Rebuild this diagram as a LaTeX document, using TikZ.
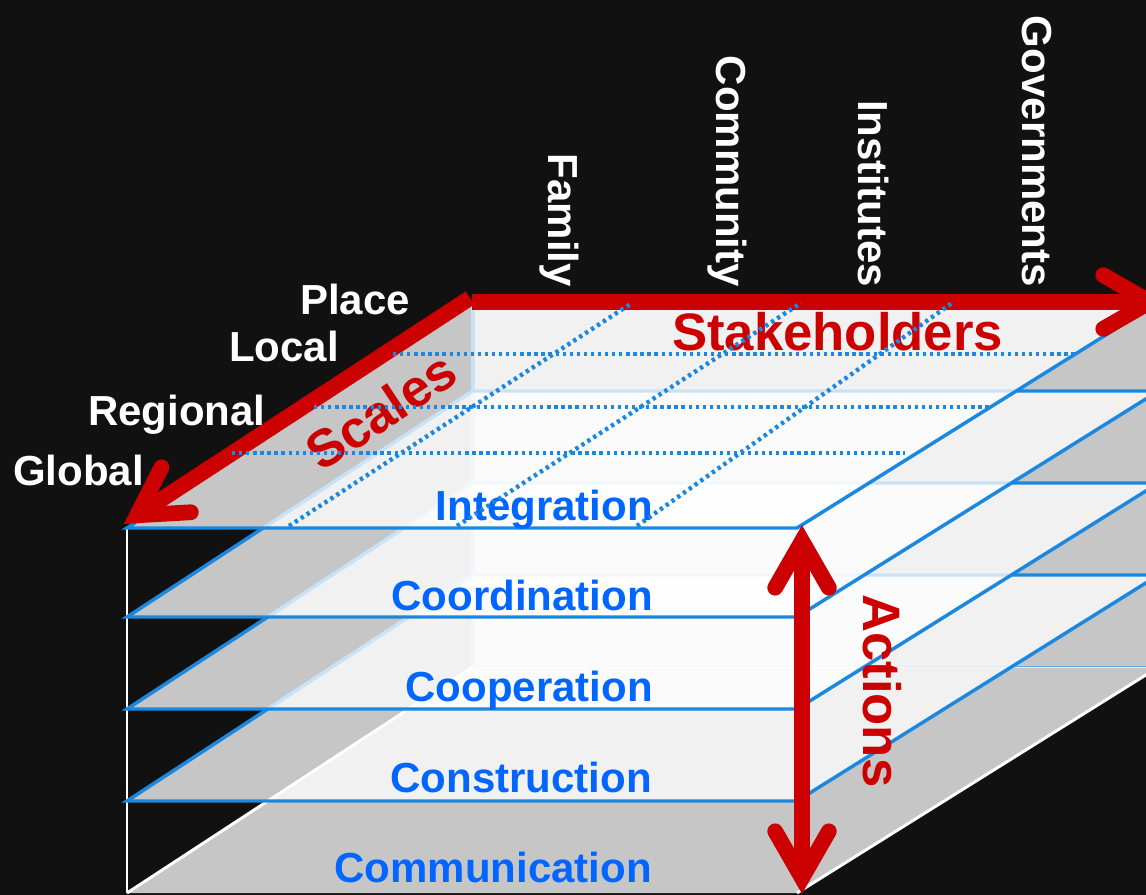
\documentclass[tikz,border=0pt]{standalone}
\usepackage{fontspec}
\setmainfont{Liberation Sans}
\usetikzlibrary{calc}
\definecolor{bgblack}{RGB}{17,17,17}
\definecolor{arrowred}{RGB}{204,0,0}
\definecolor{lineblue}{RGB}{26,136,224}
\definecolor{textblue}{RGB}{0,102,255}
\newcommand\lblfont{\fontsize{31.5}{36}\selectfont\bfseries}
\newcommand\bigredfont{\fontsize{39.5}{44}\selectfont\bfseries}
% arrow head: #1 = tip, #2 = point behind the tip on the axis
\newcommand\redhead[2]{%
  \draw[redbarb] ($(#1)!50.5pt!23.5:(#2)$) -- ($(#1)!11.25pt!(#2)$) -- ($(#1)!50.5pt!-23.5:(#2)$);}
\begin{document}
\begin{tikzpicture}[x=0.75pt,y=-0.75pt,
  layerfill/.style={fill=white, fill opacity=0.76},
  layeredge/.style={draw=lineblue, line width=2.6pt, line join=miter},
  boxedge/.style={draw=white, line width=2.2pt},
  backedge/.style={draw=lineblue!70, line width=1.2pt},
  redbar/.style={draw=arrowred, line width=11.8pt, line cap=butt},
  redbarb/.style={draw=arrowred, line width=11.8pt, line cap=round, line join=miter},
  dotline/.style={draw=lineblue, line width=3.3pt, dash pattern=on 2.5pt off 2.8pt},
  whitelbl/.style={text=white, font=\lblfont, inner sep=0pt},
  bluelbl/.style={text=textblue, font=\lblfont, inner sep=0pt, anchor=base east},
  redlbl/.style={text=arrowred, font=\bigredfont, inner sep=0pt},
  stklbl/.style={whitelbl, rotate=-90, anchor=base east}]
\useasboundingbox (0,0) rectangle (1146,895);
\clip (0,0) rectangle (1146,895);
\fill[bgblack] (0,0) rectangle (1146,895);

% layer corners
\foreach \i/\yf in {5/893,4/801,3/709,2/617,1/528} {
  \coordinate (L\i fl) at (127,\yf);
  \coordinate (L\i fr) at (797,\yf);
  \coordinate (L\i br) at ({1158.6},{\yf-226});
  \coordinate (L\i bl) at ({472.8},{\yf-226});
}

% back wall of the box
\fill[layerfill] (L1bl) -- (L1br) -- (L5br) -- (L5bl) -- cycle;
\draw[backedge] (L5bl) -- (L5br);
% box vertical edges
\draw[boxedge] (L1fl) -- (L5fl);
\draw[layeredge] (L1bl) -- (L5bl);

% layers, bottom to top
\fill[layerfill] (L5fl) -- (L5fr) -- (L5br) -- (L5bl) -- cycle;
\draw[boxedge] (L5fl) -- (L5bl);
\draw[boxedge] (L5fr) -- (L5br);
\foreach \i in {4,3,2,1} {
  \fill[layerfill] (L\i fl) -- (L\i fr) -- (L\i br) -- (L\i bl) -- cycle;
  \draw[layeredge] (L\i fl) -- (L\i fr) -- (L\i br) -- (L\i bl) -- cycle;
}

% red arrows
\coordinate (stkStart) at (472,302);
\coordinate (stkTip) at (1165,302);
\coordinate (sclStart) at (470,298);
\coordinate (sclTip) at (124.5,523.5);
\coordinate (actTop) at (802,526);
\coordinate (actBot) at (802,893);
\draw[redbar] (stkStart) -- ($(stkTip)!11.25pt!(stkStart)$);
\redhead{stkTip}{stkStart}
\draw[redbar] (sclStart) -- ($(sclTip)!11.25pt!(sclStart)$);
\redhead{sclTip}{sclStart}
\draw[redbar] ($(actTop)!11.25pt!(actBot)$) -- ($(actBot)!11.25pt!(actTop)$);
\redhead{actTop}{actBot}
\redhead{actBot}{actTop}

% labels
\node[whitelbl, anchor=base west] (place) at (300,314) {Place};
\node[whitelbl, anchor=base west] (local) at (229,361) {Local};
\node[whitelbl, anchor=base west] (regional) at (88,425) {Regional};
\node[whitelbl, anchor=base west] (global) at (13,485) {Global};

\node[stklbl] (family) at (548,287) {Family};
\node[stklbl] (community) at (716,287) {Community};
\node[stklbl] (institutes) at (858,287) {Institutes};
\node[stklbl] (governments) at (1022,287) {Governments};

\node[bluelbl] (integration) at (653,520) {Integration};
\node[bluelbl] (coordination) at (653,610) {Coordination};
\node[bluelbl] (cooperation) at (653,701) {Cooperation};
\node[bluelbl] (construction) at (652,792) {Construction};
\node[bluelbl] (communication) at (652,882) {Communication};

\node[redlbl, anchor=base west] (stakeholders) at (672,350) {Stakeholders};
\node[redlbl, rotate=33.5] (scales) at (381,411) {Scales};
\node[redlbl, rotate=-90, anchor=base west] (actions) at (863,594) {Actions};

% dotted grid on the top layer
\coordinate (h1a) at (393,354); \coordinate (h1b) at (1075,354);
\coordinate (h2a) at (314,407); \coordinate (h2b) at (990,407);
\coordinate (h3a) at (232,453); \coordinate (h3b) at (905,453);
\coordinate (d1a) at (289,526); \coordinate (d1b) at (632,303);
\coordinate (d2a) at (457,526); \coordinate (d2b) at (801,303);
\coordinate (d3a) at (637,526); \coordinate (d3b) at (952,303);
\draw[dotline] (h1a) -- (h1b);
\draw[dotline] (h2a) -- (h2b);
\draw[dotline] (h3a) -- (h3b);
\draw[dotline] (d1a) -- (d1b);
\draw[dotline] (d2a) -- (d2b);
\draw[dotline] (d3a) -- (d3b);
\end{tikzpicture}
\end{document}
